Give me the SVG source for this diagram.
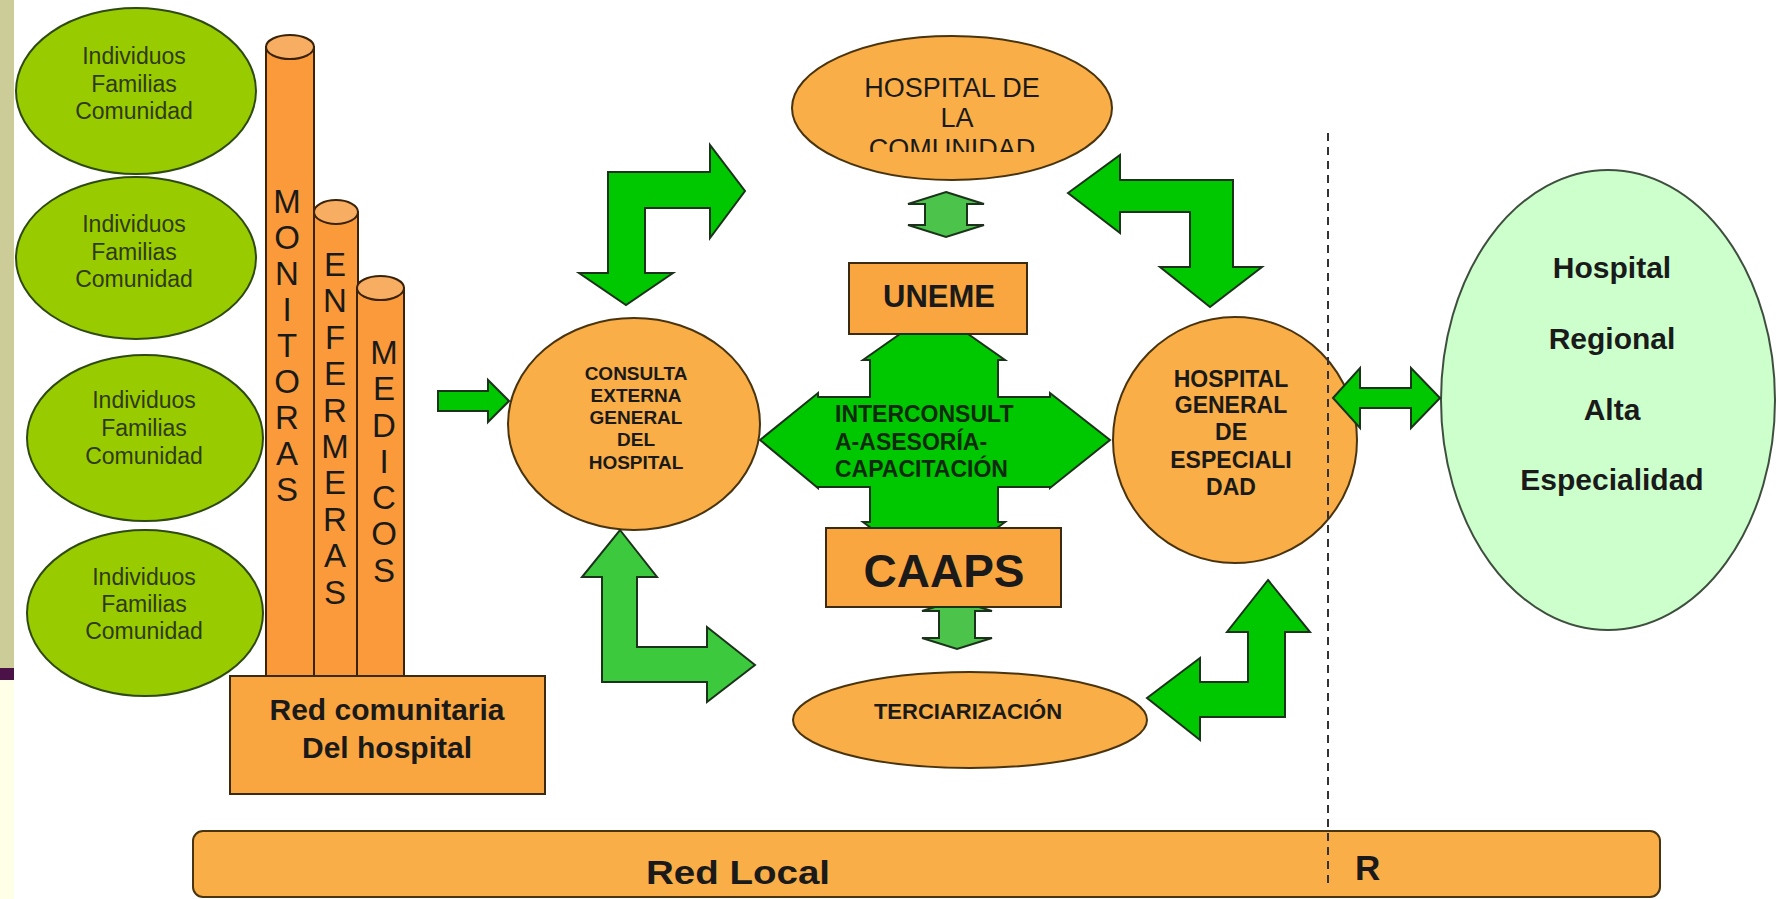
<svg xmlns="http://www.w3.org/2000/svg" width="1776" height="899" viewBox="0 0 1776 899">
<defs>
<style>
.t{font-family:"Liberation Sans",Arial,Helvetica,sans-serif;fill:#1A1A1A}
.b{font-weight:bold}
.mid{text-anchor:middle}
.org{fill:#F9AE47;stroke:#4A3410;stroke-width:2}
.box{fill:#F9A640;stroke:#3A2A10;stroke-width:2}
.cyl{fill:#FA9A3A;stroke:#3A2208;stroke-width:2}
.cap{fill:#F8AE62;stroke:#3A2208;stroke-width:2}
.grn{fill:#99CC00;stroke:#2F4A10;stroke-width:2}
.reg{fill:#CCFFCC;stroke:#3F4F3F;stroke-width:2}
.arr{fill:#00C800;stroke:#1A331A;stroke-width:2;stroke-linejoin:miter}
.arr2{fill:#3DC93D;stroke:#1A331A;stroke-width:2;stroke-linejoin:miter}
.arr3{fill:#4CC44C;stroke:#1A331A;stroke-width:2;stroke-linejoin:miter}
.indiv{font-size:23px;fill:#2E3A10}
.vl{font-size:33px}
</style>
<clipPath id="clipCom"><rect x="780" y="30" width="340" height="122"/></clipPath>
</defs>
<rect x="0" y="0" width="1776" height="899" fill="#FFFFFF"/>
<g id="side-strip">
<rect x="0" y="0" width="14" height="668" fill="#CCCC99"/>
<rect x="0" y="668" width="14" height="12" fill="#4A1246"/>
<rect x="0" y="680" width="14" height="219" fill="#FFFFE8"/>
</g>
<g id="red-local">
<rect x="193" y="831" width="1467" height="66" rx="10" class="org"/>
<text class="t b" x="646" y="884" font-size="34" textLength="184" lengthAdjust="spacingAndGlyphs">Red Local</text>
<text class="t b" x="1355" y="880" font-size="35">R</text>
</g>
<g id="comunidad-1">
<ellipse cx="136" cy="91" rx="120" ry="83" class="grn"/>
<text class="t indiv mid" x="134"><tspan x="134" y="64">Individuos</tspan><tspan x="134" y="92">Familias</tspan><tspan x="134" y="119">Comunidad</tspan></text>
</g>
<g id="comunidad-2">
<ellipse cx="136" cy="258" rx="120" ry="81" class="grn"/>
<text class="t indiv mid" x="134"><tspan x="134" y="232">Individuos</tspan><tspan x="134" y="260">Familias</tspan><tspan x="134" y="287">Comunidad</tspan></text>
</g>
<g id="comunidad-3">
<ellipse cx="145" cy="438" rx="118" ry="83" class="grn"/>
<text class="t indiv mid" x="144"><tspan x="144" y="408">Individuos</tspan><tspan x="144" y="436">Familias</tspan><tspan x="144" y="464">Comunidad</tspan></text>
</g>
<g id="comunidad-4">
<ellipse cx="145" cy="613" rx="118" ry="83" class="grn"/>
<text class="t indiv mid" x="144"><tspan x="144" y="585">Individuos</tspan><tspan x="144" y="612">Familias</tspan><tspan x="144" y="639">Comunidad</tspan></text>
</g>
<g id="monitoras">
<rect x="266" y="47" width="48" height="630" class="cyl"/>
<ellipse cx="290" cy="47" rx="24" ry="12" class="cap"/>
<text class="t vl mid"><tspan x="287" y="213">M</tspan><tspan x="287" y="249">O</tspan><tspan x="287" y="285">N</tspan><tspan x="287" y="321">I</tspan><tspan x="287" y="357">T</tspan><tspan x="287" y="393">O</tspan><tspan x="287" y="429">R</tspan><tspan x="287" y="465">A</tspan><tspan x="287" y="501">S</tspan></text>
</g>
<g id="enfermeras">
<rect x="314" y="212" width="44" height="465" class="cyl"/>
<ellipse cx="336" cy="212" rx="22" ry="12" class="cap"/>
<text class="t vl mid"><tspan x="335" y="276">E</tspan><tspan x="335" y="312">N</tspan><tspan x="335" y="349">F</tspan><tspan x="335" y="385">E</tspan><tspan x="335" y="422">R</tspan><tspan x="335" y="458">M</tspan><tspan x="335" y="494">E</tspan><tspan x="335" y="531">R</tspan><tspan x="335" y="567">A</tspan><tspan x="335" y="604">S</tspan></text>
</g>
<g id="medicos">
<rect x="357" y="288" width="47" height="389" class="cyl"/>
<ellipse cx="380.5" cy="288" rx="23.5" ry="12" class="cap"/>
<text class="t vl mid"><tspan x="384" y="364">M</tspan><tspan x="384" y="400">E</tspan><tspan x="384" y="437">D</tspan><tspan x="384" y="473">I</tspan><tspan x="384" y="509">C</tspan><tspan x="384" y="545">O</tspan><tspan x="384" y="582">S</tspan></text>
</g>
<g id="red-comunitaria">
<rect x="230" y="676" width="315" height="118" class="box"/>
<text class="t b mid" font-size="30"><tspan x="387" y="720">Red comunitaria</tspan><tspan x="387" y="758">Del hospital</tspan></text>
</g>
<g id="consulta-externa">
<ellipse cx="634" cy="424" rx="126" ry="106" class="org"/>
<text class="t b mid" font-size="19"><tspan x="636" y="380">CONSULTA</tspan><tspan x="636" y="402">EXTERNA</tspan><tspan x="636" y="424">GENERAL</tspan><tspan x="636" y="446">DEL</tspan><tspan x="636" y="469">HOSPITAL</tspan></text>
</g>
<g id="hospital-comunidad">
<ellipse cx="952" cy="108" rx="160" ry="72" class="org"/>
<text class="t mid" font-size="27" clip-path="url(#clipCom)"><tspan x="952" y="97">HOSPITAL DE</tspan><tspan x="957" y="127">LA</tspan><tspan x="952" y="158">COMUNIDAD</tspan></text>
</g>
<g id="uneme">
<rect x="849" y="263" width="178" height="71" class="box"/>
<text class="t b mid" x="939" y="307" font-size="31">UNEME</text>
</g>
<g id="caaps">
<rect x="826" y="528" width="235" height="79" class="box"/>
<text class="t b mid" x="944" y="587" font-size="46">CAAPS</text>
</g>
<g id="terciarizacion">
<ellipse cx="970" cy="720" rx="177" ry="48" class="org"/>
<text class="t b mid" x="968" y="719" font-size="22">TERCIARIZACIÓN</text>
</g>
<g id="hospital-general">
<ellipse cx="1235" cy="440" rx="122" ry="123" class="org"/>
<text class="t b mid" font-size="23"><tspan x="1231" y="387">HOSPITAL</tspan><tspan x="1231" y="413">GENERAL</tspan><tspan x="1231" y="440">DE</tspan><tspan x="1231" y="468">ESPECIALI</tspan><tspan x="1231" y="495">DAD</tspan></text>
</g>
<g id="hospital-regional">
<ellipse cx="1608" cy="400" rx="167" ry="230" class="reg"/>
<text class="t b mid" font-size="30"><tspan x="1612" y="278">Hospital</tspan><tspan x="1612" y="349">Regional</tspan><tspan x="1612" y="420">Alta</tspan><tspan x="1612" y="490">Especialidad</tspan></text>
</g>
<g id="connectors">
<polygon class="arr" points="438,391 488,391 488,380 509,401 488,422 488,411 438,411"/>
<polygon class="arr" points="608,172 710,172 710,145 745,191 710,238 710,208 645,208 645,273 673,273 626,305 579,273 608,273"/>
<polygon class="arr" points="1068,193 1120,155 1120,180 1233,180 1233,267 1262,267 1210,307 1160,267 1190,267 1190,212 1120,212 1120,233"/>
<polygon class="arr2" points="620,530 657,577 637,577 637,647 707,647 707,627 755,665 707,702 707,682 602,682 602,577 582,577"/>
<polygon class="arr" points="1268,580 1310,632 1285,632 1285,717 1200,717 1200,740 1147,698 1200,658 1200,682 1248,682 1248,632 1227,632"/>
<polygon class="arr3" points="946,192 984,204 967,204 967,225 984,225 946,237 908,225 925,225 925,204 908,204"/>
<polygon class="arr3" points="935,607 979,607 992,611 975,611 975,638 992,638 957,649 922,638 939,638 939,611 922,611"/>
<polygon class="arr" points="1333,398 1360,368 1360,388 1411,388 1411,368 1440,398 1411,428 1411,408 1360,408 1360,428"/>
<g id="interconsulta">
<polygon class="arr" points="900,334 968,334 1005,360 998,360 998,397 1050,397 1050,393 1110,440 1050,488 1050,487 998,487 998,522 1005,522 997,528 871,528 863,522 870,522 870,487 818,487 818,488 760,440 818,393 818,397 870,397 870,360 863,360"/>
<text class="t b" font-size="23" style="fill:#0F2A0F"><tspan x="835" y="422">INTERCONSULT</tspan><tspan x="835" y="450">A-ASESORÍA-</tspan><tspan x="835" y="477">CAPACITACIÓN</tspan></text>
</g>
</g>
<g id="divider">
<line x1="1328" y1="133" x2="1328" y2="885" stroke="#333333" stroke-width="2" stroke-dasharray="8,6"/>
</g>
</svg>
